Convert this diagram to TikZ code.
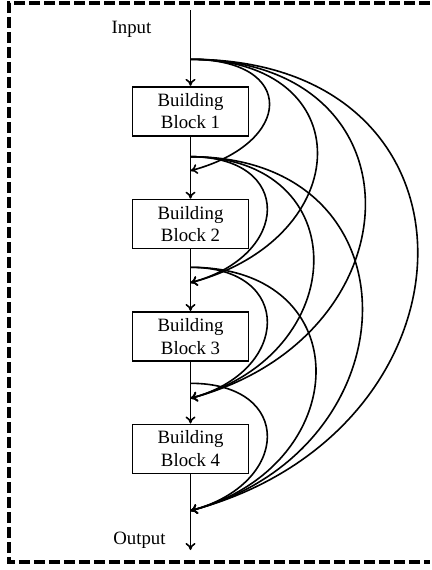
\documentclass[tikz,border=0pt]{standalone}
\usepackage{fontspec}
\setmainfont{Liberation Serif}
\usetikzlibrary{arrows.meta}

\begin{document}
\begin{tikzpicture}[x=0.5pt, y=0.5pt, line width=0.8pt,
  >={To[length=3.5pt,width=5pt]},
  block/.style={draw, minimum width=58pt, minimum height=24.5pt, inner sep=0pt, align=center,
    font=\fontsize{9.4}{11.3}\selectfont},
  lbl/.style={font=\fontsize{9.4}{11}\selectfont, inner sep=0pt}]
\def\xm{190.5}

% sources leave the trunk, targets come back in
\def\ys{-59.3}
\def\yt{-170.7}

\useasboundingbox (0,0) rectangle (432,-570);
\draw[line width=2pt, dash pattern=on 5.5pt off 2pt] (430,-3) -- (9,-3) -- (9,-562) -- (430,-562);

\node[block] (b1) at (\xm,-111.2) {Building\\Block 1};
\node[block] (b2) at (\xm,-224) {Building\\Block 2};
\node[block] (b3) at (\xm,-336.3) {Building\\Block 3};
\node[block] (b4) at (\xm,-448.8) {Building\\Block 4};

\node[lbl] (in) at (131.5,-29) {Input};
\node[lbl] (out) at (139.5,-540) {Output};

\coordinate (top) at (\xm,-10);
\coordinate (bot) at (\xm,-550);

\coordinate (s0) at (\xm,\ys);
\coordinate (s1) at (\xm,-156.7);
\coordinate (s2) at (\xm,-267.3);
\coordinate (s3) at (\xm,-383.3);

\coordinate (t1) at (\xm,\yt);
\coordinate (t2) at (\xm,-282.7);
\coordinate (t3) at (\xm,-398.3);
\coordinate (t4) at (\xm,-510.7);

\draw[->] (top) -- (b1);
\draw[->] (b1) -- (b2);
\draw[->] (b2) -- (b3);
\draw[->] (b3) -- (b4);
\draw[->] (b4) -- (bot);

\draw[->] (s0) .. controls +(0:107) and +(15:107) .. (t1);
\draw[->] (s0) .. controls +(0:172) and +(15:172) .. (t2);
\draw[->] (s0) .. controls +(0:237) and +(15:237) .. (t3);
\draw[->] (s0) .. controls +(0:308) and +(15:308) .. (t4);

\draw[->] (s1) .. controls +(0:104) and +(15:104) .. (t2);
\draw[->] (s1) .. controls +(0:167) and +(15:167) .. (t3);
\draw[->] (s1) .. controls +(0:233) and +(15:233) .. (t4);

\draw[->] (s2) .. controls +(0:104) and +(15:104) .. (t3);
\draw[->] (s2) .. controls +(0:170) and +(15:170) .. (t4);

\draw[->] (s3) .. controls +(0:104) and +(15:104) .. (t4);

\end{tikzpicture}
\end{document}
